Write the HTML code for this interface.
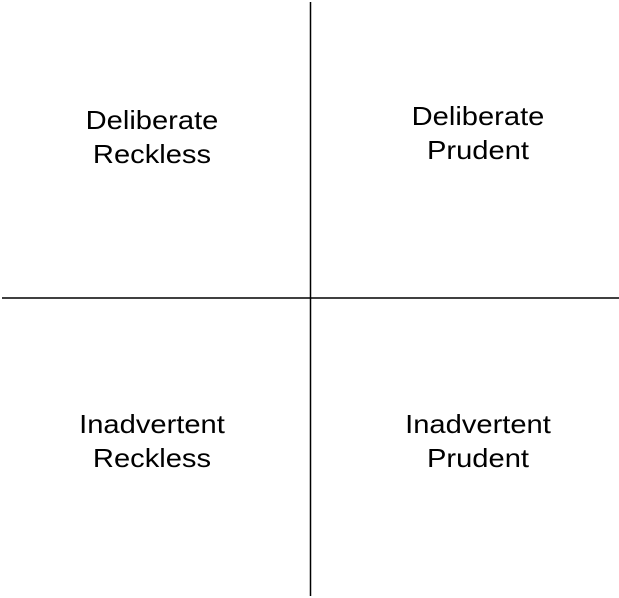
<!DOCTYPE html>
<html><head><meta charset="utf-8"><style>
html,body{margin:0;padding:0;background:#fff;width:619px;height:598px;overflow:hidden}
.t{position:absolute;font-family:"Liberation Sans",Arial,sans-serif;font-size:26px;line-height:34px;text-align:center;color:#000;width:260px;transform:scaleX(1.12);transform-origin:center}
</style></head><body>
<svg width="619" height="598" style="position:absolute;left:0;top:0">
<line x1="310.5" y1="2" x2="310.5" y2="596" stroke="#000" stroke-width="1.5"/>
<line x1="2" y1="298" x2="619" y2="298" stroke="#000" stroke-width="1.5"/>
</svg>
<div class="t" style="left:22px;top:103px">Deliberate<br>Reckless</div>
<div class="t" style="left:348px;top:99px">Deliberate<br>Prudent</div>
<div class="t" style="left:22px;top:407px">Inadvertent<br>Reckless</div>
<div class="t" style="left:348px;top:407px">Inadvertent<br>Prudent</div>
</body></html>
